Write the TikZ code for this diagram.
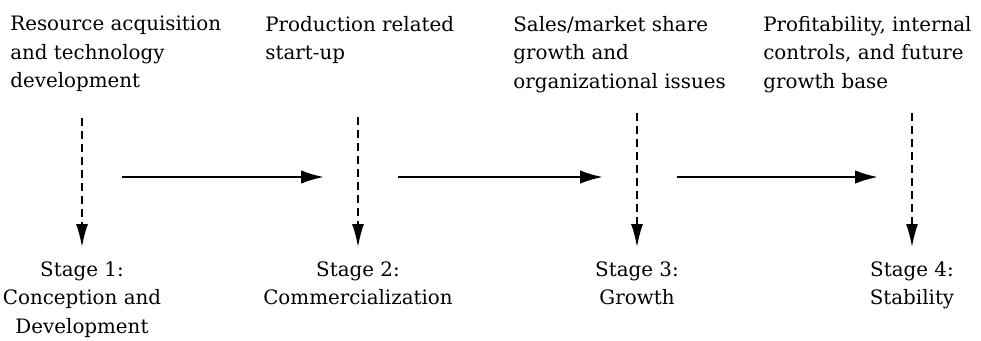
\documentclass[tikz,border=0pt]{standalone}
\usepackage{fontspec}
\setmainfont{DejaVu Serif}
\usetikzlibrary{arrows.meta}
\begin{document}
\begin{tikzpicture}
	\tikzstyle{issue}=[anchor=north west,align=left,inner sep=0pt,font=\fontsize{11.3}{16.2}\selectfont]
	\tikzstyle{stage}=[anchor=north,align=center,inner xsep=0pt,inner ysep=8pt,font=\fontsize{11.3}{16.2}\selectfont]
	\tikzstyle{edge}=[draw, line width=1.3pt, -{Latex[length=4.6mm,width=2.7mm]}, shorten <=0.8cm, shorten >=0.68cm]
	\tikzstyle{feed}=[draw, line width=0.9pt, dash pattern=on 0.16cm off 0.1cm, -{Latex[length=4.6mm,width=2.4mm]}]
	\useasboundingbox (0,0) rectangle (19.62,-6.8);
	\begin{scope}
		\node [issue] (i1) at (0.2,-0.32) {Resource acquisition\\and technology\\development};
		\node [issue] (i2) at (5.3,-0.32) {Production related\\start-up};
		\node [issue] (i3) at (10.26,-0.32) {Sales/market share\\growth and\\organizational issues};
		\node [issue] (i4) at (15.26,-0.32) {Profitability, internal\\controls, and future\\growth base};
		\coordinate (d1) at (1.64,-2.36);
		\coordinate (d2) at (7.16,-2.34);
		\coordinate (d3) at (12.74,-2.26);
		\coordinate (d4) at (18.24,-2.26);
		\node [stage] (s1) at (1.64,-4.94) {Stage 1:\\Conception and\\Development};
		\node [stage] (s2) at (7.16,-4.94) {Stage 2:\\Commercialization};
		\node [stage] (s3) at (12.74,-4.94) {Stage 3:\\Growth};
		\node [stage] (s4) at (18.24,-4.94) {Stage 4:\\Stability};
		\path[feed] (d1) -- (s1);
		\path[feed] (d2) -- (s2);
		\path[feed] (d3) -- (s3);
		\path[feed] (d4) -- (s4);
		\coordinate (m1) at (1.64,-3.54);
		\coordinate (m2) at (7.16,-3.54);
		\coordinate (m3) at (12.74,-3.54);
		\coordinate (m4) at (18.24,-3.54);
		\path[edge] (m1) -- (m2);
		\path[edge] (m2) -- (m3);
		\path[edge] (m3) -- (m4);
	\end{scope}
\end{tikzpicture}
\end{document}
